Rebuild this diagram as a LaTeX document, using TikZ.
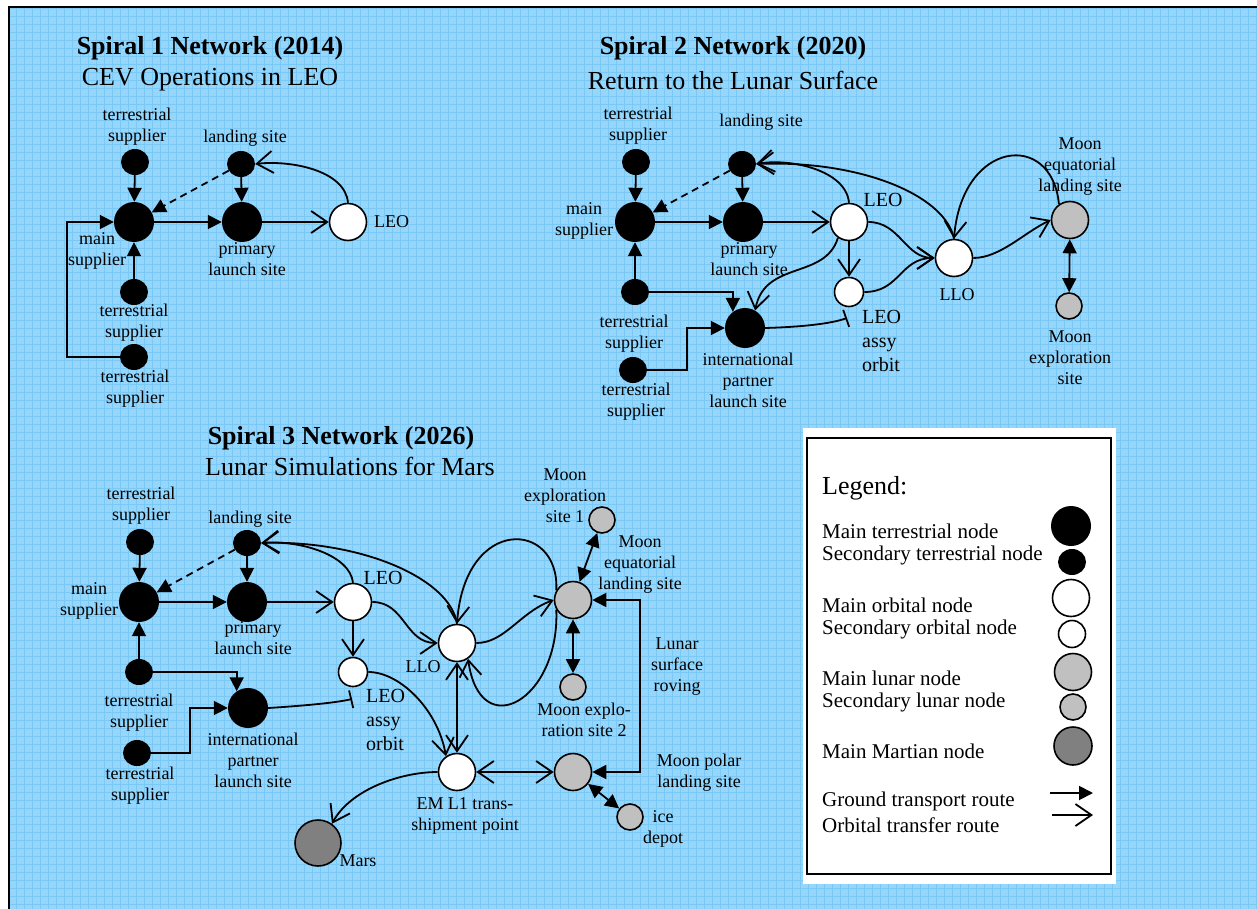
\documentclass[tikz,border=0pt]{standalone}
\usepackage{fontspec}
\setmainfont{Liberation Serif}
\usetikzlibrary{arrows.meta,shapes.geometric}
\definecolor{skyfill}{RGB}{150,214,250}
\definecolor{skygrid}{RGB}{122,200,245}
\definecolor{lunar}{RGB}{192,192,192}
\definecolor{martian}{RGB}{128,128,128}

\begin{document}
\begin{tikzpicture}[x=1pt,y=-1pt,
  lbl/.style={font=\fontsize{18}{21}\selectfont, align=center, inner sep=0pt},
  lblB/.style={font=\fontsize{20}{24}\selectfont, align=left, inner sep=0pt},
  ttl/.style={font=\fontsize{26}{31}\selectfont\bfseries, inner sep=0pt},
  sub/.style={font=\fontsize{26}{31}\selectfont, inner sep=0pt},
  legtxt/.style={font=\fontsize{21}{24}\selectfont, anchor=west, inner sep=0pt},
  mainT/.style={circle, fill=black, minimum size=40pt, inner sep=0pt},
  secT/.style={ellipse, fill=black, minimum width=28pt, minimum height=26pt, inner sep=0pt},
  mainO/.style={circle, draw, line width=1.6pt, fill=white, minimum size=37pt, inner sep=0pt},
  secO/.style={circle, draw, line width=1.6pt, fill=white, minimum size=29pt, inner sep=0pt},
  mainL/.style={circle, draw, line width=1.6pt, fill=lunar, minimum size=37pt, inner sep=0pt},
  secL/.style={circle, draw, line width=1.6pt, fill=lunar, minimum size=26pt, inner sep=0pt},
  mainM/.style={circle, draw, line width=1.6pt, fill=martian, minimum size=46pt, inner sep=0pt},
  route/.style={line width=1.8pt},
  ground/.style={route, -{Triangle[length=14pt,width=14pt]}},
  ground2/.style={route, {Triangle[length=14pt,width=14pt]}-{Triangle[length=14pt,width=14pt]}},
  orbit/.style={route, -{Straight Barb[length=16pt,width=22pt]}},
  orbit2/.style={route, {Straight Barb[length=16pt,width=22pt]}-{Straight Barb[length=16pt,width=22pt]}},
  dashedroute/.style={dash pattern=on 7pt off 5pt},
  tickend/.style={route, -{Bar[width=18pt]}},
]
\useasboundingbox (0,0) rectangle (1257,909);

% page background with textured blue panel
\fill[white] (0,0) rectangle (1257,909);
\fill[skyfill] (9,7) rectangle (1257,909);
\draw[skygrid, line width=0.7pt] (9,7) grid[step=8pt] (1257,909);
\draw[black, line width=2.5pt] (9,909) -- (9,7) -- (1257,7);

% ---------------- Spiral 1 ----------------
\node[ttl] (t1) at (210,48) {Spiral 1 Network (2014)};
\node[sub] (t1s) at (210,80) {CEV Operations in LEO};

\node[secT]  (s1tsA)  at (135,162) {};
\node[mainT] (s1main) at (134,222) {};
\node[secT]  (s1land) at (241,164) {};
\node[mainT] (s1prim) at (242,222) {};
\node[mainO] (s1leo)  at (348,222) {};
\node[secT]  (s1tsB)  at (134,292) {};
\node[secT]  (s1tsC)  at (134,357) {};

\node[lbl] (s1tsAl)  at (137,127) {terrestrial\\supplier};
\node[lbl] (s1landl) at (245,138) {landing site};
\node[lbl] (s1mainl) at (97,251) {main\\supplier};
\node[lbl] (s1priml) at (247,259) {primary\\launch site};
\node[lbl, anchor=west] (s1leol) at (374,222) {LEO};
\node[lbl] (s1tsBl)  at (134,323) {terrestrial\\supplier};
\node[lbl] (s1tsCl)  at (135,389) {terrestrial\\supplier};

\draw[ground] (s1tsA) -- (s1main);
\draw[ground, dashedroute] (s1land) -- (s1main);
\draw[ground] (s1land) -- (s1prim);
\draw[ground] (s1main) -- (s1prim);
\draw[orbit] (s1prim) -- (s1leo);
\draw[orbit] (s1leo.north) .. controls (345,170) and (290,160) .. (s1land.east);
\draw[ground] (s1tsB) -- (s1main);
\coordinate (s1bend) at (67,222);
\draw[ground] (s1tsC.west) -| (s1bend) -- (s1main.west);

% ---------------- Spiral 2 ----------------
\node[ttl] (t2) at (733,48) {Spiral 2 Network (2020)};
\node[sub] (t2s) at (733,80) {Return to the Lunar Surface};

\node[secT]  (s2tsA)  at (636,162) {};
\node[mainT] (s2main) at (635,222) {};
\node[secT]  (s2land) at (742,164) {};
\node[mainT] (s2prim) at (743,222) {};
\node[mainO] (s2leo)  at (849,222) {};
\node[secO]  (s2assy) at (849,292) {};
\node[mainO] (s2llo)  at (954,258) {};
\node[secT]  (s2tsB)  at (635,292) {};
\node[mainT] (s2intl) at (745,328) {};
\node[secT]  (s2tsC)  at (633,370) {};
\node[mainL] (s2meq)  at (1070,220) {};
\node[secL]  (s2mex)  at (1069,306) {};

\node[lbl] (s2tsAl)  at (638,126) {terrestrial\\supplier};
\node[lbl] (s2landl) at (761,122) {landing site};
\node[lbl] (s2mainl) at (584,221) {main\\supplier};
\node[lbl] (s2priml) at (749,259) {primary\\launch site};
\node[lblB] (s2leol) at (883,200) {LEO};
\node[lblB, anchor=west] (s2assyl) at (862,341) {LEO\\assy\\orbit};
\node[lbl] (s2llol)  at (957,295) {LLO};
\node[lbl] (s2tsBl)  at (634,334) {terrestrial\\supplier};
\node[lbl] (s2tsCl)  at (636,402) {terrestrial\\supplier};
\node[lbl] (s2intll) at (748,380) {international\\partner\\launch site};
\node[lbl] (s2meql)  at (1080,167) {Moon\\equatorial\\landing site};
\node[lbl] (s2mexl)  at (1070,358) {Moon\\exploration\\site};

\draw[ground] (s2tsA) -- (s2main);
\draw[ground, dashedroute] (s2land) -- (s2main);
\draw[ground] (s2land) -- (s2prim);
\draw[ground] (s2main) -- (s2prim);
\draw[orbit] (s2prim) -- (s2leo);
\draw[orbit] (s2leo.north) .. controls (846,170) and (790,158) .. (s2land.east);
\draw[orbit] (s2llo.north) .. controls (945,195) and (860,160) .. (s2land.east);
\draw[orbit] (s2meq.125) .. controls (1052,130) and (962,140) .. (s2llo.north);
\draw[orbit] (s2leo) -- (s2assy);
\draw[orbit] (s2leo.east) .. controls (900,222) and (905,258) .. (s2llo.west);
\draw[orbit] (s2assy.east) .. controls (900,292) and (900,258) .. (s2llo.west);
\draw[orbit] (s2leo.235) .. controls (825,280) and (765,260) .. (s2intl.60);
\coordinate (s2tick) at (847,318);
\draw[tickend] (s2intl.east) .. controls (800,327) and (830,324) .. (s2tick);
\draw[ground] (s2tsB) -- (s2main);
\draw[ground] (s2tsB.east) -| (s2intl.127);
\coordinate (s2bendC) at (687,328);
\draw[ground] (s2tsC.east) -| (s2bendC) -- (s2intl.west);
\draw[orbit] (s2llo.east) .. controls (1000,258) and (1025,232) .. (s2meq.west);
\draw[ground2] (s2meq) -- (s2mex);

% ---------------- Spiral 3 ----------------
\node[ttl] (t3) at (341,438) {Spiral 3 Network (2026)};
\node[sub] (t3s) at (350,466) {Lunar Simulations for Mars};

\node[secT]  (s3tsA)  at (140,542) {};
\node[mainT] (s3main) at (139,602) {};
\node[secT]  (s3land) at (247,543) {};
\node[mainT] (s3prim) at (247,602) {};
\node[mainO] (s3leo)  at (353,602) {};
\node[secO]  (s3assy) at (353,672) {};
\node[mainO] (s3llo)  at (457,643) {};
\node[secT]  (s3tsB)  at (139,672) {};
\node[mainT] (s3intl) at (248,708) {};
\node[secT]  (s3tsC)  at (137,753) {};
\node[mainO] (s3eml)  at (457,772) {};
\node[mainL] (s3meq)  at (573,600) {};
\node[secL]  (s3ms1)  at (602,520) {};
\node[secL]  (s3ms2)  at (573,687) {};
\node[mainL] (s3pol)  at (573,772) {};
\node[secL]  (s3ice)  at (630,817) {};
\node[mainM] (s3mars) at (318,843) {};

\node[lbl] (s3tsAl)  at (141,506) {terrestrial\\supplier};
\node[lbl] (s3landl) at (250,519) {landing site};
\node[lbl] (s3mainl) at (89,601) {main\\supplier};
\node[lbl] (s3priml) at (253,638) {primary\\launch site};
\node[lblB] (s3leol) at (383,578) {LEO};
\node[lbl] (s3llol)  at (423,667) {LLO};
\node[lblB, anchor=west] (s3assyl) at (366,720) {LEO\\assy\\orbit};
\node[lbl] (s3tsBl)  at (139,713) {terrestrial\\supplier};
\node[lbl] (s3tsCl)  at (140,786) {terrestrial\\supplier};
\node[lbl] (s3intll) at (253,760) {international\\partner\\launch site};
\node[lbl] (s3emll)  at (465,816) {EM L1 trans-\\shipment point};
\node[lbl] (s3marsl) at (358,861) {Mars};
\node[lbl] (s3ms1l)  at (565,496) {Moon\\exploration\\site 1};
\node[lbl] (s3meql)  at (640,565) {Moon\\equatorial\\landing site};
\node[lbl] (s3rovl)  at (677,667) {Lunar\\surface\\roving};
\node[lbl] (s3ms2l)  at (584,720) {Moon explo-\\ration site 2};
\node[lbl] (s3poll)  at (699,773) {Moon polar\\landing site};
\node[lbl] (s3icel)  at (663,829) {ice\\depot};

\draw[ground] (s3tsA) -- (s3main);
\draw[ground, dashedroute] (s3land) -- (s3main);
\draw[ground] (s3land) -- (s3prim);
\draw[ground] (s3main) -- (s3prim);
\draw[orbit] (s3prim) -- (s3leo);
\draw[orbit] (s3leo.north) .. controls (350,555) and (300,540) .. (s3land.east);
\draw[orbit] (s3llo.north) .. controls (450,578) and (360,540) .. (s3land.east);
\draw[orbit] (s3meq.150) .. controls (560,520) and (465,515) .. (s3llo.north);
\draw[orbit] (s3meq.210) .. controls (560,700) and (480,745) .. (s3llo.-55);
\draw[orbit] (s3leo.east) .. controls (405,602) and (405,643) .. (s3llo.west);
\draw[orbit] (s3leo) -- (s3assy);
\draw[orbit] (s3llo.east) .. controls (505,643) and (520,612) .. (s3meq.west);
\draw[orbit2] (s3llo) -- (s3eml);
\draw[orbit] (s3assy.east) .. controls (400,672) and (438,710) .. (s3eml.125);
\coordinate (s3tick) at (352,699);
\draw[tickend] (s3intl.east) .. controls (300,706) and (335,703) .. (s3tick);
\draw[ground] (s3tsB) -- (s3main);
\draw[ground] (s3tsB.east) -| (s3intl.124);
\coordinate (s3bendC) at (190,708);
\draw[ground] (s3tsC.east) -| (s3bendC) -- (s3intl.west);
\draw[orbit2] (s3eml) -- (s3pol);
\draw[orbit] (s3eml.west) .. controls (400,772) and (350,790) .. (s3mars.54);
\draw[ground2] (s3meq) -- (s3ms1);
\draw[ground2] (s3meq) -- (s3ms2);
\draw[ground2] (s3pol) -- (s3ice);
\coordinate (s3rov) at (640,686);
\draw[ground2] (s3meq.east) -| (s3rov) |- (s3pol.east);

% ---------------- Legend ----------------
\fill[white] (803,428) rectangle (1116,884);
\draw[line width=2pt] (807,438) rectangle (1111,874);

\node[legtxt, font=\fontsize{26}{31}\selectfont] (legHead) at (822,488) {Legend:};
\node[legtxt] (legT1) at (822,531) {Main terrestrial node};
\node[legtxt] (legT2) at (822,555) {Secondary terrestrial node};
\node[legtxt] (legT3) at (822,605) {Main orbital node};
\node[legtxt] (legT4) at (822,629) {Secondary orbital node};
\node[legtxt] (legT5) at (822,678) {Main lunar node};
\node[legtxt] (legT6) at (822,702) {Secondary lunar node};
\node[legtxt] (legT7) at (822,751) {Main Martian node};
\node[legtxt] (legT8) at (822,801) {Ground transport route};
\node[legtxt] (legT9) at (822,825) {Orbital transfer route};

\node[mainT] (legMT) at (1071,526) {};
\node[secT]  (legST) at (1072,562) {};
\node[mainO] (legMO) at (1071,598) {};
\node[secO, minimum size=27pt] (legSO) at (1072,634) {};
\node[mainL] (legML) at (1073,672) {};
\node[secL]  (legSL) at (1073,707) {};
\node[mainM, minimum size=38pt] (legMM) at (1073,746) {};

\coordinate (legGa) at (1050,793);
\coordinate (legGb) at (1093,793);
\draw[ground] (legGa) -- (legGb);
\coordinate (legOa) at (1052,815);
\coordinate (legOb) at (1093,815);
\draw[orbit] (legOa) -- (legOb);
\end{tikzpicture}
\end{document}
